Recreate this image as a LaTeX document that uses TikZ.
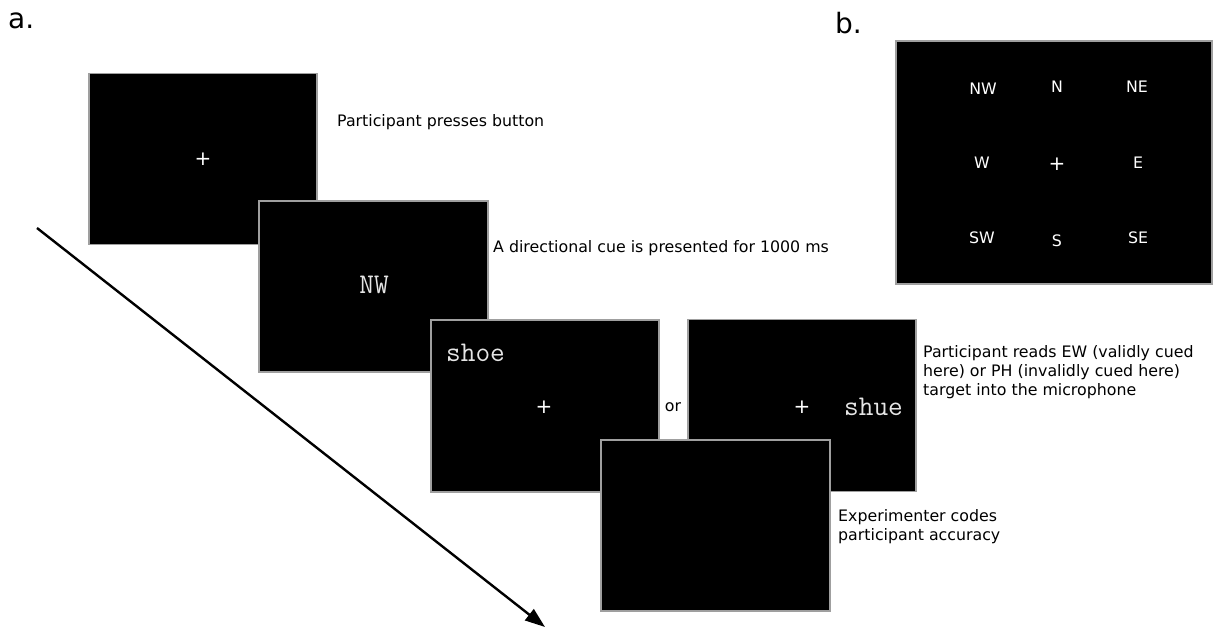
\documentclass[tikz,border=0pt]{standalone}
\usepackage{fontspec}
\setmainfont{DejaVu Sans}
\usetikzlibrary{arrows.meta}
\tikzset{
  screen/.style={fill=black, draw=gray!75, line width=1.4pt, inner sep=0, outer sep=0, minimum width=228pt, minimum height=171pt},
  lbl/.style={font=\fontsize{15.8}{18.5}\selectfont, text=black, inner sep=0, anchor=base west, align=left},
  wtxt/.style={font=\fontsize{15.8}{18}\selectfont, text=white, inner sep=0},
  crs/.style={font=\fontsize{20}{22}\selectfont, text=white, inner sep=0},
  mono/.style={font=\ttfamily\fontsize{28.5}{30}\selectfont, text=white!90!black, inner sep=0},
  panel/.style={font=\fontsize{28}{32}\selectfont, inner sep=0, anchor=base west},
}
\begin{document}
\begin{tikzpicture}[x=1pt, y=-1pt]
\useasboundingbox (0,0) rectangle (1213,628);
% panel labels
\node[panel] (pa) at (8,29) {a.};
\node[panel] (pb) at (835,34) {b.};
% screens (a)
\node[screen] (s1) at (203,159) {};
\node[crs] (c1) at (203,159) {+};
\node[screen, minimum width=229pt] (s2) at (373.5,286.5) {};
\node[mono] (nw) at (374,285) {NW};
\node[screen, minimum height=172pt] (s3) at (545,406) {};
\node[mono, anchor=base west] (shoe) at (446,361) {shoe};
\node[crs] (c3) at (544,407) {+};
\node[screen, minimum height=172pt] (s4) at (802,405.5) {};
\node[crs] (c4) at (802,407) {+};
\node[mono, anchor=base west] (shue) at (844,415) {shue};
\node[screen, minimum width=229pt] (s5) at (715.5,525.5) {};
\node[lbl, anchor=base] (or) at (673,411) {or};
% descriptions
\node[lbl] (t1) at (337,127) {Participant presses button};
\node[lbl] (t2) at (493,253) {A directional cue is presented for 1000 ms};
\node[lbl] (t3) at (923,395) {Participant reads EW (validly cued\\here) or PH (invalidly cued here)\\target into the microphone};
\node[lbl] (t4) at (838,540) {Experimenter codes\\participant accuracy};
% time arrow
\coordinate (a0) at (37,228);
\coordinate (a1) at (545,627);
\draw[line width=2.4pt, -{Triangle[length=20pt,width=14pt]}] (a0) -- (a1);
% screen (b)
\node[screen, minimum width=316pt, minimum height=243pt] (sb) at (1054,162.5) {};
\node[wtxt] (bNW) at (983,89) {NW};
\node[wtxt] (bN) at (1057,87) {N};
\node[wtxt] (bNE) at (1137,87) {NE};
\node[wtxt] (bW) at (982,163) {W};
\node[crs] (bC) at (1057,164) {+};
\node[wtxt] (bE) at (1138,163) {E};
\node[wtxt] (bSW) at (982,238) {SW};
\node[wtxt] (bS) at (1057,241) {S};
\node[wtxt] (bSE) at (1138,238) {SE};
\end{tikzpicture}
\end{document}
